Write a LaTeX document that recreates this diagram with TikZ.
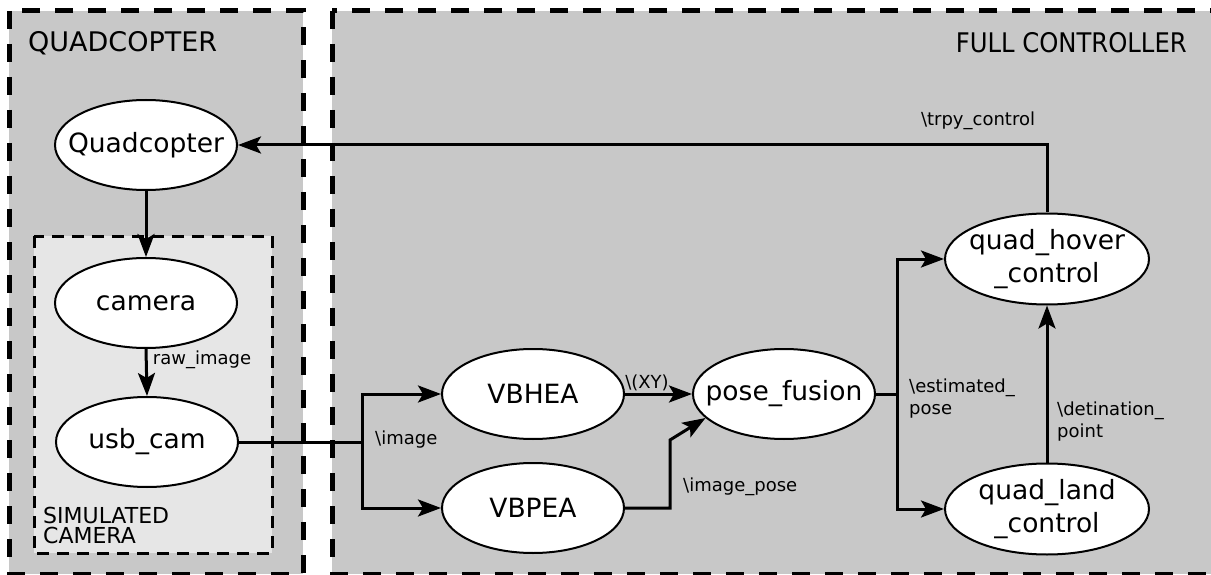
\documentclass[tikz,border=0pt]{standalone}
\usepackage{fontspec}
\setmainfont{DejaVu Sans}
\usetikzlibrary{arrows.meta,shapes.geometric}
\definecolor{outergray}{HTML}{C8C8C8}
\definecolor{innergray}{HTML}{E6E6E6}
\newcommand{\nb}[1]{\makebox[0pt][c]{#1}}
\begin{document}
\begin{tikzpicture}[x=1pt,y=-1pt,
  proc/.style={ellipse,draw=black,line width=2pt,fill=white,inner sep=0pt,
    minimum width=182pt,minimum height=90pt,align=center,
    font=\fontsize{26.5}{33}\selectfont},
  wideproc/.style={proc,minimum width=204pt,minimum height=91pt},
  outerbox/.style={fill=outergray,draw=black,line width=5pt,dash pattern=on 18pt off 15pt},
  innerbox/.style={fill=innergray,draw=black,line width=3pt,dash pattern=on 12pt off 8pt},
  conn/.style={line width=3pt,draw=black},
  arr/.style={conn,-{Stealth[length=23pt,width=17pt,inset=5pt]}},
  elabel/.style={font=\fontsize{18}{22}\selectfont,inner sep=0pt,align=left},
  title/.style={font=\fontsize{27}{32}\selectfont,inner sep=0pt}]
\useasboundingbox (0,0) rectangle (1211,575);
\clip (0,0) rectangle (1211,575);
% group boxes
\path[outerbox] (9,11) rectangle (303,574);
\path[outerbox] (332,11) rectangle (1240,574);
\path[innerbox] (34,236) rectangle (272,553);
% titles
\node[title,anchor=west] (tquad) at (28,43) {QUADCOPTER};
\node[title,anchor=east] (tfull) at (1187,43) {\scalebox{0.9}[1]{FULL CONTROLLER}};
\node[anchor=north west,inner sep=0pt,align=left,font=\fontsize{22}{20}\selectfont] (tsim) at (43,507) {SIMULATED\\CAMERA};
% nodes
\node[proc] (quad) at (146,145) {\nb{Quadcopter}};
\node[proc] (camera) at (146,303) {\nb{camera}};
\node[proc] (usb) at (147,442) {\nb{usb\_cam}};
\node[proc] (vbhea) at (533,394) {\nb{VBHEA}};
\node[proc] (vbpea) at (533,508) {\nb{VBPEA}};
\node[proc] (pose) at (784,394) {\nb{pose\_fusion}};
\node[wideproc] (hover) at (1047,259) {\nb{quad\_hover}\\\nb{\_control}};
\node[wideproc] (land) at (1047,509) {\nb{quad\_land}\\\nb{\_control}};
% connectors
\coordinate (imgsplit) at (362,442);
\coordinate (posesplit) at (897,394);
\coordinate (ipbend1) at (670,508);
\coordinate (ipbend2) at (670,440);
\draw[arr] (quad.south) -- (camera.north);
\draw[arr] (camera.south) -- (usb.north);
\draw[conn] (usb.east) -- (imgsplit);
\draw[arr] (imgsplit) |- (vbhea.west);
\draw[arr] (imgsplit) |- (vbpea.west);
\draw[arr] (vbhea.east) -- (pose.west);
\draw[arr] (vbpea.east) -- (ipbend1) -- (ipbend2) -- (pose.197);
\draw[conn] (pose.east) -- (posesplit);
\draw[arr] (posesplit) |- (hover.west);
\draw[arr] (posesplit) |- (land.west);
\draw[arr] (land.north) -- (hover.south);
\draw[arr] (hover.north) |- (quad.east);
% labels
\node[elabel] (lraw) at (202,360) {raw\_image};
\node[elabel,anchor=west] (limg) at (375,440) {\textbackslash image};
\node[elabel] (lxy) at (647,383) {\textbackslash(XY)};
\node[elabel,anchor=west] (lip) at (683,487) {\textbackslash image\_pose};
\node[elabel,anchor=west] (lest) at (909,399) {\textbackslash estimated\_\\pose};
\node[elabel,anchor=west] (ldest) at (1057,422) {\textbackslash detination\_\\point};
\node[elabel] (ltrpy) at (978,121) {\textbackslash trpy\_control};
\end{tikzpicture}
\end{document}
